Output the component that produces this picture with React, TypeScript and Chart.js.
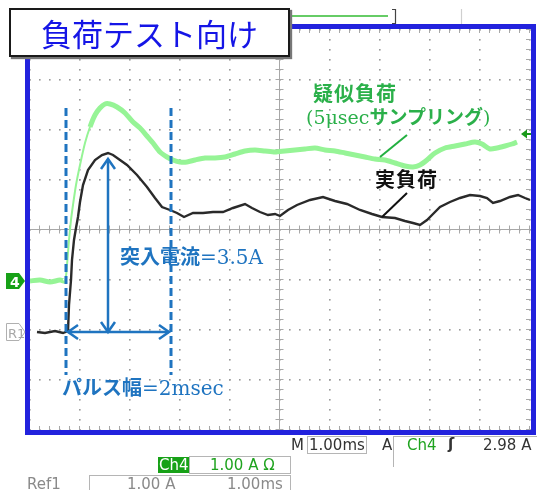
import React, { useEffect, useRef } from "react";
import { Chart, registerables } from "chart.js";

Chart.register(...registerables);

// ---- data (time in ms, current in A; scope: 1.00 ms/div, 1.00 A/div) ----
const greenTime = [0, 0.2, 0.4, 0.6, 0.7, 0.74, 0.78, 0.82, 0.86, 0.92, 1.0, 1.1, 1.2, 1.3, 1.4, 1.5, 1.6, 1.74, 1.9, 2.06, 2.2, 2.34, 2.46, 2.6, 2.74, 2.86, 3.0, 3.14, 3.3, 3.5, 3.7, 3.9, 4.1, 4.3, 4.5, 4.7, 4.9, 5.1, 5.3, 5.5, 5.7, 5.9, 6.1, 6.3, 6.5, 6.7, 6.9, 7.1, 7.3, 7.5, 7.66, 7.8, 7.94, 8.1, 8.3, 8.5, 8.7, 8.9, 9.04, 9.2, 9.34, 9.5, 9.64, 9.74];
const greenAmps = [0, 0.02, -0.02, 0.02, 0, 0.32, 0.82, 1.22, 1.52, 1.92, 2.32, 2.76, 3.08, 3.32, 3.46, 3.54, 3.54, 3.48, 3.36, 3.18, 3.06, 2.9, 2.76, 2.58, 2.48, 2.42, 2.38, 2.38, 2.42, 2.46, 2.46, 2.48, 2.54, 2.6, 2.62, 2.6, 2.58, 2.6, 2.62, 2.64, 2.66, 2.62, 2.6, 2.56, 2.52, 2.48, 2.44, 2.42, 2.36, 2.3, 2.28, 2.32, 2.42, 2.56, 2.66, 2.7, 2.74, 2.78, 2.74, 2.64, 2.66, 2.7, 2.74, 2.78];

const blackTime = [0.14, 0.3, 0.5, 0.66, 0.76, 0.78, 0.82, 0.84, 0.88, 0.92, 0.96, 1.0, 1.06, 1.16, 1.3, 1.44, 1.56, 1.66, 1.8, 1.94, 2.14, 2.34, 2.5, 2.64, 2.8, 2.94, 3.08, 3.26, 3.46, 3.66, 3.86, 4.06, 4.3, 4.44, 4.6, 4.76, 4.9, 5.0, 5.16, 5.34, 5.6, 5.86, 6.1, 6.34, 6.6, 6.84, 7.04, 7.3, 7.5, 7.66, 7.8, 7.94, 8.06, 8.2, 8.4, 8.6, 8.8, 9.0, 9.14, 9.26, 9.4, 9.6, 9.76, 9.9, 10.0];
const blackAmps = [0, -0.02, 0.02, -0.02, 0.02, 0.54, 1.04, 1.44, 1.84, 2.08, 2.3, 2.6, 2.94, 3.24, 3.44, 3.54, 3.58, 3.54, 3.44, 3.34, 3.14, 2.9, 2.68, 2.5, 2.44, 2.38, 2.3, 2.38, 2.38, 2.4, 2.4, 2.48, 2.56, 2.48, 2.4, 2.34, 2.36, 2.32, 2.44, 2.54, 2.64, 2.7, 2.62, 2.56, 2.44, 2.36, 2.3, 2.28, 2.22, 2.18, 2.14, 2.24, 2.36, 2.5, 2.6, 2.68, 2.74, 2.72, 2.68, 2.58, 2.62, 2.7, 2.74, 2.68, 2.64];

// channel ground markers (in divisions from centre)
const GREEN_GND = -1.02;
const BLACK_GND = -2.04;
// pulse markers (ms)
const PULSE_START = 0.72;
const PULSE_END = 2.82;
const PEAK_TIME = 1.56;
const PEAK_AMPS = 3.58;

const BLUE = "#1f74c0";
const FRAME = "#2222dd";
const ANN_GREEN = "#2bb04a";

function arrowHead(ctx: CanvasRenderingContext2D, x: number, y: number, dx: number, dy: number) {
  const len = 10, w = 7;
  const nx = -dy, ny = dx;
  ctx.beginPath();
  ctx.moveTo(x - dx * len + nx * w, y - dy * len + ny * w);
  ctx.lineTo(x, y);
  ctx.lineTo(x - dx * len - nx * w, y - dy * len - ny * w);
  ctx.stroke();
}

const scopePlugin = {
  id: "scope",
  beforeDatasetsDraw(chart: any) {
    const { ctx, chartArea: a, scales } = chart;
    const xs = scales.x, ys = scales.y;
    ctx.save();
    ctx.fillStyle = "#9a9a9a";
    for (let i = 0; i <= 10; i++) {
      const px = Math.round(xs.getPixelForValue(i));
      for (let j = 0; j <= 40; j++) {
        const py = Math.round(ys.getPixelForValue(-4 + j * 0.2));
        ctx.fillRect(px - 1, py - 1, 1.6, 1.6);
      }
    }
    for (let j = -4; j <= 4; j++) {
      const py = Math.round(ys.getPixelForValue(j));
      for (let i = 0; i <= 50; i++) {
        const px = Math.round(xs.getPixelForValue(i * 0.2));
        ctx.fillRect(px - 1, py - 1, 1.6, 1.6);
      }
    }
    ctx.strokeStyle = "#a8a8a8";
    ctx.lineWidth = 1;
    const cx = Math.round(xs.getPixelForValue(5)) - 0.5;
    const cy = Math.round(ys.getPixelForValue(0)) - 0.5;
    ctx.beginPath();
    ctx.moveTo(cx, a.top); ctx.lineTo(cx, a.bottom);
    ctx.moveTo(a.left, cy); ctx.lineTo(a.right, cy);
    for (let j = 0; j <= 40; j++) {
      const py = Math.round(ys.getPixelForValue(-4 + j * 0.2)) - 0.5;
      ctx.moveTo(cx - 4, py); ctx.lineTo(cx + 4, py);
      ctx.moveTo(a.right - 4, py); ctx.lineTo(a.right, py);
    }
    for (let i = 0; i <= 50; i++) {
      const px = Math.round(xs.getPixelForValue(i * 0.2)) - 0.5;
      ctx.moveTo(px, cy - 4); ctx.lineTo(px, cy + 4);
      ctx.moveTo(px, a.bottom - 4); ctx.lineTo(px, a.bottom);
      ctx.moveTo(px, a.top); ctx.lineTo(px, a.top + 3);
    }
    ctx.stroke();
    ctx.restore();
  },
  afterDatasetsDraw(chart: any) {
    const { ctx, scales } = chart;
    const xs = scales.x, ys = scales.y;
    ctx.save();
    ctx.strokeStyle = BLUE;
    ctx.lineWidth = 3;
    ctx.setLineDash([8, 4]);
    for (const t of [PULSE_START, PULSE_END]) {
      const px = xs.getPixelForValue(t);
      ctx.beginPath();
      ctx.moveTo(px, ys.getPixelForValue(2.44));
      ctx.lineTo(px, ys.getPixelForValue(-2.9));
      ctx.stroke();
    }
    ctx.setLineDash([]);
    ctx.lineWidth = 2.5;
    const ax = xs.getPixelForValue(PEAK_TIME);
    const aTop = ys.getPixelForValue(BLACK_GND + PEAK_AMPS) + 6;
    const aBot = ys.getPixelForValue(BLACK_GND);
    ctx.beginPath();
    ctx.moveTo(ax, aTop); ctx.lineTo(ax, aBot);
    ctx.stroke();
    arrowHead(ctx, ax, aTop, 0, -1);
    arrowHead(ctx, ax, aBot, 0, 1);
    const hx0 = xs.getPixelForValue(PULSE_START) + 2;
    const hx1 = xs.getPixelForValue(PULSE_END) - 2;
    ctx.beginPath();
    ctx.moveTo(hx0, aBot); ctx.lineTo(hx1, aBot);
    ctx.stroke();
    arrowHead(ctx, hx0, aBot, -1, 0);
    arrowHead(ctx, hx1, aBot, 1, 0);
    ctx.lineWidth = 2;
    ctx.strokeStyle = "#22b040";
    ctx.beginPath();
    ctx.moveTo(xs.getPixelForValue(7.0), ys.getPixelForValue(1.46));
    ctx.lineTo(xs.getPixelForValue(7.54), ys.getPixelForValue(1.9));
    ctx.stroke();
    ctx.strokeStyle = "#111";
    ctx.beginPath();
    ctx.moveTo(xs.getPixelForValue(7.04), ys.getPixelForValue(0.26));
    ctx.lineTo(xs.getPixelForValue(7.54), ys.getPixelForValue(0.74));
    ctx.stroke();
    ctx.restore();
  },
  afterDraw(chart: any) {
    const { ctx, chartArea: a, scales } = chart;
    const ys = scales.y;
    ctx.save();
    ctx.strokeStyle = FRAME;
    ctx.lineWidth = 5;
    ctx.strokeRect(a.left - 2.5, a.top - 3.5, a.right - a.left + 6, a.bottom - a.top + 6);
    // channel 4 tag
    const g = Math.round(ys.getPixelForValue(GREEN_GND));
    ctx.fillStyle = "#17a117";
    ctx.beginPath();
    ctx.moveTo(6, g - 8); ctx.lineTo(19, g - 8); ctx.lineTo(25, g); ctx.lineTo(19, g + 8); ctx.lineTo(6, g + 8);
    ctx.closePath(); ctx.fill();
    // R1 tag
    const r = Math.round(ys.getPixelForValue(BLACK_GND));
    ctx.strokeStyle = "#b0b0b0";
    ctx.lineWidth = 1;
    ctx.beginPath();
    ctx.moveTo(6.5, r - 8.5); ctx.lineTo(19, r - 8.5); ctx.lineTo(25, r); ctx.lineTo(19, r + 8.5); ctx.lineTo(6.5, r + 8.5);
    ctx.closePath(); ctx.stroke();
    // trigger level marker (right)
    const tl = ys.getPixelForValue(1.92);
    ctx.fillStyle = "#1a9a1a";
    ctx.beginPath();
    ctx.moveTo(521, tl); ctx.lineTo(527, tl - 4.5); ctx.lineTo(527, tl + 4.5); ctx.closePath(); ctx.fill();
    ctx.fillRect(526, tl - 1, 5, 2);
    // top record bar
    ctx.strokeStyle = "#33bb33";
    ctx.lineWidth = 1.5;
    ctx.beginPath(); ctx.moveTo(290, 16); ctx.lineTo(388, 16); ctx.stroke();
    ctx.strokeStyle = "#444";
    ctx.lineWidth = 1.2;
    ctx.beginPath(); ctx.moveTo(392, 9.5); ctx.lineTo(395.5, 9.5); ctx.lineTo(395.5, 23.5); ctx.lineTo(392, 23.5); ctx.stroke();
    ctx.strokeStyle = "#cfcfcf";
    ctx.beginPath(); ctx.moveTo(461.5, 9); ctx.lineTo(461.5, 24); ctx.stroke();
    ctx.restore();
  },
};

const sans = '"DejaVu Sans", sans-serif';
const mix = '"DejaVu Serif", "Noto Sans CJK JP", serif';
const abs = (l: number, t: number, extra: React.CSSProperties = {}): React.CSSProperties => ({
  position: "absolute", left: l, top: t, whiteSpace: "nowrap", lineHeight: 1, ...extra,
});
const JP = ({ children }: { children: React.ReactNode }) => (
  <span style={{ fontFamily: '"Noto Sans CJK JP", sans-serif', fontWeight: 700 }}>{children}</span>
);
const LAT = ({ children }: { children: React.ReactNode }) => (
  <span style={{ fontFamily: '"DejaVu Serif", serif', fontWeight: 400 }}>{children}</span>
);

export default function App() {
  const ref = useRef<HTMLCanvasElement>(null);
  useEffect(() => {
    if (!ref.current) return;
    const chart = new Chart(ref.current, {
      type: "line",
      data: {
        datasets: [
          {
            label: "疑似負荷",
            data: greenTime.map((t, i) => ({ x: t, y: GREEN_GND + greenAmps[i] })),
            borderColor: "rgb(150,244,150)",
            borderWidth: 5,
            pointRadius: 0,
            tension: 0.25,
            segment: {
              borderWidth: (c: any) => (Math.abs(c.p1.y - c.p0.y) / Math.max(0.1, c.p1.x - c.p0.x) > 3 ? 2 : 5),
            },
          },
          {
            label: "実負荷",
            data: blackTime.map((t, i) => ({ x: t, y: BLACK_GND + blackAmps[i] })),
            borderColor: "#2a2a2a",
            borderWidth: 2.4,
            pointRadius: 0,
            tension: 0,
          },
        ],
      },
      options: {
        responsive: false,
        animation: false,
        events: [],
        layout: { padding: { left: 30, top: 30, right: 7, bottom: 60 } },
        plugins: { legend: { display: false }, tooltip: { enabled: false } },
        scales: {
          x: { type: "linear", min: 0, max: 10, display: false },
          y: { type: "linear", min: -4, max: 4, display: false },
        },
      },
      plugins: [scopePlugin],
    });
    return () => chart.destroy();
  }, []);

  return (
    <div style={{ position: "absolute", left: 0, top: 0, width: 537, height: 490, background: "#fff", overflow: "hidden" }}>
      <canvas ref={ref} width={537} height={490} style={{ position: "absolute", left: 0, top: 0, width: 537, height: 490 }} />
      <div style={abs(9, 8, {
        width: 277, height: 45, border: "2px solid #1a1a1a", background: "#fff", boxShadow: "2px 2px 1px #777",
        display: "flex", alignItems: "center", justifyContent: "center",
        fontFamily: '"Noto Sans CJK JP", sans-serif', fontSize: 31, color: "#1515e6",
      })}>負荷テスト向け</div>
      <div style={abs(313, 83, { fontFamily: mix, fontSize: 20, color: ANN_GREEN, letterSpacing: 1 })}><JP>疑似負荷</JP></div>
      <div style={abs(306, 106, { fontFamily: mix, fontSize: 19, color: ANN_GREEN })}><LAT>(5μsec</LAT><JP>サンプリング</JP><LAT>)</LAT></div>
      <div style={abs(375, 169, { fontFamily: mix, fontSize: 20, color: "#111", letterSpacing: 1 })}><JP>実負荷</JP></div>
      <div style={abs(120, 246, { fontFamily: mix, fontSize: 20, color: BLUE })}><JP>突入電流</JP><LAT>=3.5A</LAT></div>
      <div style={abs(62, 377, { fontFamily: mix, fontSize: 20, color: BLUE })}><JP>パルス幅</JP><LAT>=2msec</LAT></div>
      <div style={abs(10, 275, { fontFamily: sans, fontSize: 14, fontWeight: 700, color: "#fff" })}>4</div>
      <div style={abs(8, 327, { fontFamily: sans, fontSize: 13, color: "#a8a8a8" })}>R1</div>
      <div style={abs(291, 438, { fontFamily: sans, fontSize: 15, color: "#333" })}>M</div>
      <div style={abs(307, 436, { width: 58, height: 16, border: "1px solid #b5b5b5" })} />
      <div style={abs(309, 438, { fontFamily: sans, fontSize: 15, color: "#333" })}>1.00ms</div>
      <div style={abs(382, 438, { fontFamily: sans, fontSize: 15, color: "#333" })}>A</div>
      <div style={abs(393, 436, { width: 160, height: 30, borderLeft: "1px solid #b5b5b5", borderTop: "1px solid #b5b5b5" })} />
      <div style={abs(407, 438, { fontFamily: sans, fontSize: 15, color: "#1fa31f" })}>Ch4</div>
      <div style={abs(448, 437, { fontFamily: sans, fontSize: 15, fontWeight: 700, color: "#333" })}>ʃ</div>
      <div style={abs(483, 438, { fontFamily: sans, fontSize: 15, color: "#333" })}>2.98 A</div>
      <div style={abs(158, 457, { width: 31, height: 16, background: "#17a117" })} />
      <div style={abs(159, 458, { fontFamily: sans, fontSize: 15, color: "#fff" })}>Ch4</div>
      <div style={abs(189, 456, { width: 100, height: 16, border: "1px solid #b5b5b5" })} />
      <div style={abs(210, 458, { fontFamily: sans, fontSize: 15, color: "#1fa31f" })}>1.00 A Ω</div>
      <div style={abs(27, 477, { fontFamily: sans, fontSize: 15, color: "#8a8a8a" })}>Ref1</div>
      <div style={abs(89, 475, { width: 200, height: 20, border: "1px solid #b5b5b5" })} />
      <div style={abs(127, 477, { fontFamily: sans, fontSize: 15, color: "#8a8a8a" })}>1.00 A</div>
      <div style={abs(227, 477, { fontFamily: sans, fontSize: 15, color: "#8a8a8a" })}>1.00ms</div>
    </div>
  );
}
